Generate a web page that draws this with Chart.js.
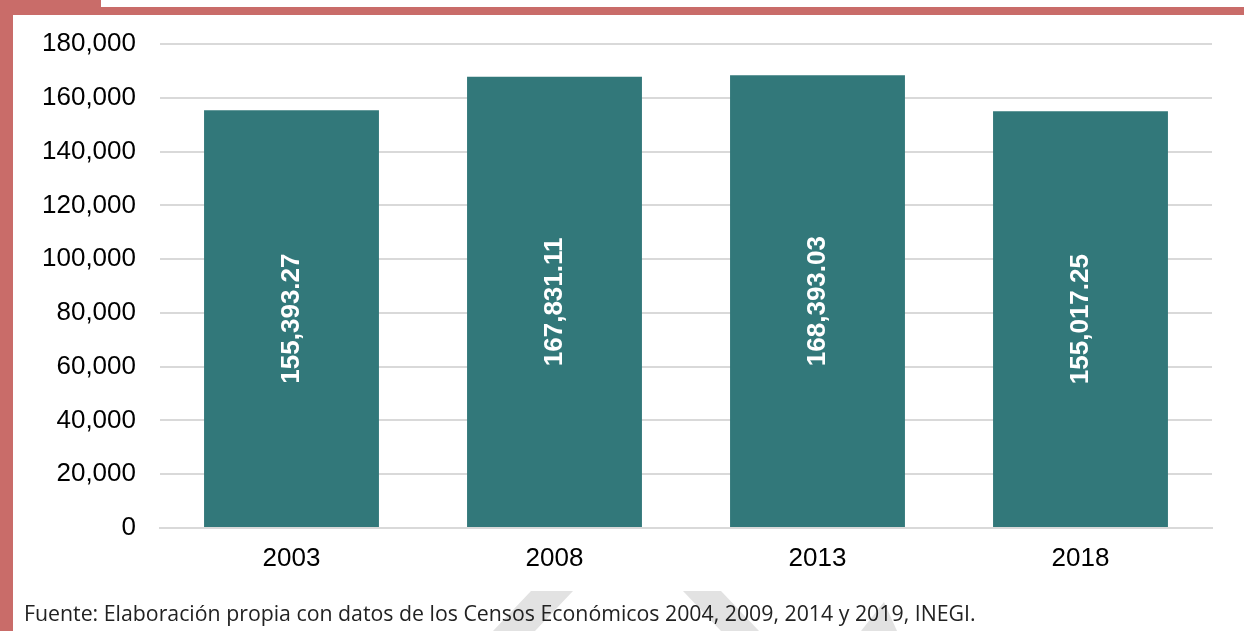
<!DOCTYPE html>
<html lang="es">
<head>
<meta charset="utf-8">
<title>Censos Económicos</title>
<script src="https://cdn.jsdelivr.net/npm/chart.js@4.4.1/dist/chart.umd.min.js"></script>
<style>
  html, body { margin: 0; padding: 0; background: #fff; }
  #page { position: relative; width: 1244px; height: 631px; overflow: hidden; }
  #chartbox { position: absolute; left: 0; top: 0; width: 1244px; height: 631px; }
  .frame { position: absolute; background: #c96c69; }
  #wm { position: absolute; left: 0; top: 0; }
  #fuente { position: absolute; left: 24px; top: 598px; font: 21.3px/1.362 "Open Sans", sans-serif; color: #222; white-space: nowrap; }
</style>
</head>
<body>
<div id="page">
  <svg id="wm" width="1244" height="631">
    <!-- marca de agua gris -->
    <polygon points="531,591 573,591 535,631 493,631" fill="#e2e2e2"/>
    <polygon points="683,591 721,591 759,631 721,631" fill="#e2e2e2"/>
    <polygon points="884,602 897,631 861,631" fill="#e2e2e2"/>
  </svg>
  <div id="chartbox"><canvas id="grafica"></canvas></div>
  <div class="frame" style="left:0;top:0;width:13px;height:631px"></div>
  <div class="frame" style="left:0;top:7px;width:1244px;height:8px"></div>
  <div class="frame" style="left:0;top:0;width:101px;height:15px"></div>
  <div id="fuente">Fuente: Elaboración propia con datos de los Censos Económicos 2004, 2009, 2014 y 2019, INEGI.</div>
</div>

<script>
// datos
const anios = ['2003', '2008', '2013', '2018'];
const valores = [155393.27, 167831.11, 168393.03, 155017.25];
const yMax = 180000;
const yPaso = 20000;

const fmt = new Intl.NumberFormat('en-US', {minimumFractionDigits: 2, maximumFractionDigits: 2});

// etiquetas verticales dentro de las barras
const etiquetas = {
  id: 'etiquetas',
  afterDatasetsDraw(chart) {
    const ctx = chart.ctx;
    const meta = chart.getDatasetMeta(0);
    ctx.save();
    ctx.fillStyle = '#ffffff';
    ctx.font = 'bold 26px Arial, "Liberation Sans", sans-serif';
    ctx.textAlign = 'center';
    ctx.textBaseline = 'middle';
    meta.data.forEach((bar, i) => {
      const cy = (bar.y + bar.base) / 2;
      ctx.save();
      ctx.translate(bar.x, cy);
      ctx.rotate(-Math.PI / 2);
      ctx.fillText(fmt.format(valores[i]), 0, 0);
      ctx.restore();
    });
    ctx.restore();
  }
};

new Chart(document.getElementById('grafica'), {
  type: 'bar',
  data: {
    labels: anios,
    datasets: [{
      data: valores,
      backgroundColor: '#32787a',
      categoryPercentage: 1.0,
      barPercentage: 0.665
    }]
  },
  options: {
    responsive: true,
    maintainAspectRatio: false,
    animation: false,
    layout: { padding: { left: 0, right: 32, top: 44, bottom: 53 } },
    plugins: { legend: { display: false }, tooltip: { enabled: false } },
    scales: {
      x: {
        grid: { display: false, drawTicks: false },
        border: { display: true, color: '#d9d9d9', width: 2 },
        ticks: { color: '#000', padding: 15, font: { family: 'Arial, "Liberation Sans", sans-serif', size: 26 } },
        afterFit(scale) { scale.height = 50; }
      },
      y: {
        min: 0,
        max: yMax,
        grid: { color: '#d9d9d9', lineWidth: 2, drawTicks: false },
        border: { display: false },
        ticks: {
          stepSize: yPaso,
          color: '#000',
          padding: 24,
          font: { family: 'Arial, "Liberation Sans", sans-serif', size: 26 },
          callback: (v) => v.toLocaleString('en-US')
        },
        afterFit(scale) { scale.width = 160; }
      }
    }
  },
  plugins: [etiquetas]
});
</script>
</body>
</html>
